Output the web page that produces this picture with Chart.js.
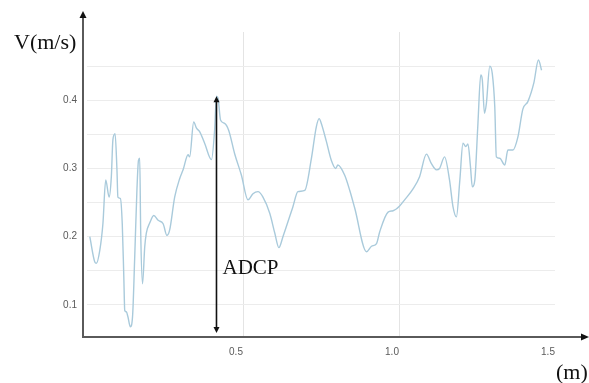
<!DOCTYPE html>
<html>
<head>
<meta charset="utf-8">
<style>
  html, body { margin: 0; padding: 0; background: #fff; }
  #wrap { position: relative; width: 589px; height: 383px; }
</style>
<script src="https://cdn.jsdelivr.net/npm/chart.js@4/dist/chart.umd.min.js"></script>
</head>
<body>
<div id="wrap"><canvas id="chart" width="589" height="383"></canvas></div>
<script>
"use strict";

// ── Data ─────────────────────────────────────────────────────────────────────

const distance = [
  0.009, 0.025, 0.030, 0.041, 0.051, 0.060, 0.071, 0.078, 0.083, 0.090,
  0.096, 0.099, 0.107, 0.113, 0.118, 0.121, 0.126, 0.131, 0.139, 0.146,
  0.153, 0.160, 0.165, 0.169, 0.172, 0.178, 0.185, 0.190, 0.201, 0.214,
  0.228, 0.244, 0.256, 0.265, 0.281, 0.297, 0.308, 0.324, 0.329, 0.342,
  0.351, 0.361, 0.377, 0.399, 0.409, 0.415, 0.420, 0.428, 0.441, 0.454,
  0.473, 0.495, 0.516, 0.532, 0.548, 0.564, 0.586, 0.602, 0.615, 0.628,
  0.660, 0.676, 0.698, 0.719, 0.735, 0.744, 0.751, 0.767, 0.783, 0.797,
  0.804, 0.826, 0.842, 0.858, 0.896, 0.912, 0.928, 0.938, 0.965, 0.981,
  1.002, 1.018, 1.045, 1.066, 1.088, 1.104, 1.120, 1.130, 1.146, 1.162,
  1.173, 1.184, 1.195, 1.205, 1.214, 1.221, 1.229, 1.235, 1.243, 1.253,
  1.262, 1.267, 1.274, 1.280, 1.291, 1.299, 1.307, 1.312, 1.323, 1.339,
  1.349, 1.365, 1.381, 1.397, 1.413, 1.432, 1.447, 1.457
];

const velocity = [
  0.200, 0.163, 0.161, 0.180, 0.219, 0.283, 0.258, 0.288, 0.342, 0.351,
  0.298, 0.258, 0.256, 0.219, 0.141, 0.092, 0.090, 0.083, 0.068, 0.083,
  0.171, 0.268, 0.312, 0.315, 0.210, 0.131, 0.185, 0.205, 0.220, 0.231,
  0.224, 0.219, 0.202, 0.210, 0.258, 0.285, 0.298, 0.320, 0.317, 0.368,
  0.359, 0.354, 0.337, 0.313, 0.356, 0.406, 0.403, 0.371, 0.366, 0.356,
  0.322, 0.290, 0.254, 0.263, 0.266, 0.258, 0.234, 0.205, 0.184, 0.200,
  0.244, 0.266, 0.268, 0.314, 0.361, 0.373, 0.366, 0.340, 0.312, 0.300,
  0.305, 0.290, 0.268, 0.242, 0.178, 0.186, 0.190, 0.207, 0.236, 0.238,
  0.245, 0.254, 0.270, 0.288, 0.321, 0.307, 0.298, 0.300, 0.317, 0.283,
  0.244, 0.229, 0.283, 0.337, 0.332, 0.336, 0.303, 0.273, 0.283, 0.366,
  0.437, 0.430, 0.381, 0.395, 0.450, 0.439, 0.390, 0.317, 0.315, 0.305,
  0.327, 0.327, 0.346, 0.387, 0.398, 0.425, 0.459, 0.444
];

const xTicks = [0.5, 1.0, 1.5];
const yTicks = [0.1, 0.15, 0.2, 0.25, 0.3, 0.35, 0.4, 0.45, 0.5];
const yLabelled = [0.1, 0.2, 0.3, 0.4];

// ADCP marker: x position and vertical extent (data units)
const ADCP_X = 0.415;
const ADCP_TOP = 0.406;
const ADCP_BOTTOM = 0.059;

// ── Helpers ──────────────────────────────────────────────────────────────────

function near(a, b) {
  return Math.abs(a - b) < 1e-6;
}

function arrowHead(ctx, x, y, dir, len, half) {
  // dir: "up" | "down" | "right"
  ctx.beginPath();
  if (dir === "up") {
    ctx.moveTo(x, y);
    ctx.lineTo(x - half, y + len);
    ctx.lineTo(x + half, y + len);
  } else if (dir === "down") {
    ctx.moveTo(x, y);
    ctx.lineTo(x - half, y - len);
    ctx.lineTo(x + half, y - len);
  } else {
    ctx.moveTo(x, y);
    ctx.lineTo(x - len, y - half);
    ctx.lineTo(x - len, y + half);
  }
  ctx.closePath();
  ctx.fill();
}

// ── Axes, arrow and labels ───────────────────────────────────────────────────

const decorPlugin = {
  id: "decor",
  afterDraw(chart) {
    const ctx = chart.ctx;
    const xs = chart.scales.x;
    const ys = chart.scales.y;
    const area = chart.chartArea;
    const ox = area.left - 4;
    const oy = area.bottom;

    ctx.save();

    // axis lines
    ctx.strokeStyle = "#5a5a5a";
    ctx.lineWidth = 2;
    ctx.beginPath();
    ctx.moveTo(ox, oy + 1);
    ctx.lineTo(ox, 16);
    ctx.moveTo(ox - 1, oy);
    ctx.lineTo(584, oy);
    ctx.stroke();
    ctx.fillStyle = "#111";
    arrowHead(ctx, ox, 11, "up", 7, 3.5);
    arrowHead(ctx, 589, oy, "right", 8, 3.5);

    // ADCP double arrow
    const ax = xs.getPixelForValue(ADCP_X);
    const aTop = ys.getPixelForValue(ADCP_TOP);
    const aBot = ys.getPixelForValue(ADCP_BOTTOM);
    ctx.strokeStyle = "#111";
    ctx.lineWidth = 1.6;
    ctx.beginPath();
    ctx.moveTo(ax, aTop + 4);
    ctx.lineTo(ax, aBot - 4);
    ctx.stroke();
    arrowHead(ctx, ax, aTop, "up", 6, 3);
    arrowHead(ctx, ax, aBot, "down", 6, 3);

    // serif annotations
    ctx.fillStyle = "#111";
    ctx.textBaseline = "alphabetic";
    ctx.textAlign = "left";
    ctx.font = "21px 'Liberation Serif', 'Times New Roman', serif";
    ctx.fillText("ADCP", ax + 6, 274);
    ctx.font = "22px 'Liberation Serif', 'Times New Roman', serif";
    ctx.fillText("V(m/s)", 14, 49);
    ctx.fillText("(m)", 556, 379);

    ctx.restore();
  },
};

// ── Chart ────────────────────────────────────────────────────────────────────

function init() {
  const ctx = document.getElementById("chart").getContext("2d");
  const points = distance.map((d, i) => ({ x: d, y: velocity[i] }));

  new Chart(ctx, {
    type: "line",
    data: {
      datasets: [
        {
          label: "V",
          data: points,
          borderColor: "#a9cadb",
          borderWidth: 1.4,
          pointRadius: 0,
          fill: false,
          cubicInterpolationMode: "monotone",
        },
      ],
    },
    options: {
      responsive: false,
      animation: false,
      events: [],
      layout: { padding: { left: 0, right: 34, top: 32, bottom: 0 } },
      plugins: {
        legend: { display: false },
        tooltip: { enabled: false },
      },
      scales: {
        x: {
          type: "linear",
          min: 0,
          max: 1.5,
          afterBuildTicks: s => { s.ticks = xTicks.map(v => ({ value: v })); },
          afterFit: s => { s.height = 46; },
          border: { display: false },
          grid: {
            drawTicks: false,
            lineWidth: 1,
            color: c => (c.tick && (near(c.tick.value, 0.5) || near(c.tick.value, 1.0)) ? "#e4e4e4" : "rgba(0,0,0,0)"),
          },
          ticks: {
            padding: 9,
            labelOffset: -7,
            maxRotation: 0,
            color: "#5a5a5a",
            font: { family: "'Liberation Sans', Arial, sans-serif", size: 10 },
            callback: v => Number(v).toFixed(1),
          },
        },
        y: {
          type: "linear",
          min: 0.053,
          max: 0.5,
          afterBuildTicks: s => { s.ticks = yTicks.map(v => ({ value: v })); },
          afterFit: s => { s.width = 87; },
          border: { display: false },
          grid: {
            drawTicks: false,
            lineWidth: 1,
            color: c => (c.tick && near(c.tick.value, 0.5) ? "rgba(0,0,0,0)" : "#ececec"),
          },
          ticks: {
            padding: 10,
            color: "#5a5a5a",
            font: { family: "'Liberation Sans', Arial, sans-serif", size: 10 },
            callback: v => (yLabelled.some(t => near(t, v)) ? Number(v).toFixed(1) : ""),
          },
        },
      },
    },
    plugins: [decorPlugin],
  });
}

document.addEventListener("DOMContentLoaded", init);
</script>
</body>
</html>
